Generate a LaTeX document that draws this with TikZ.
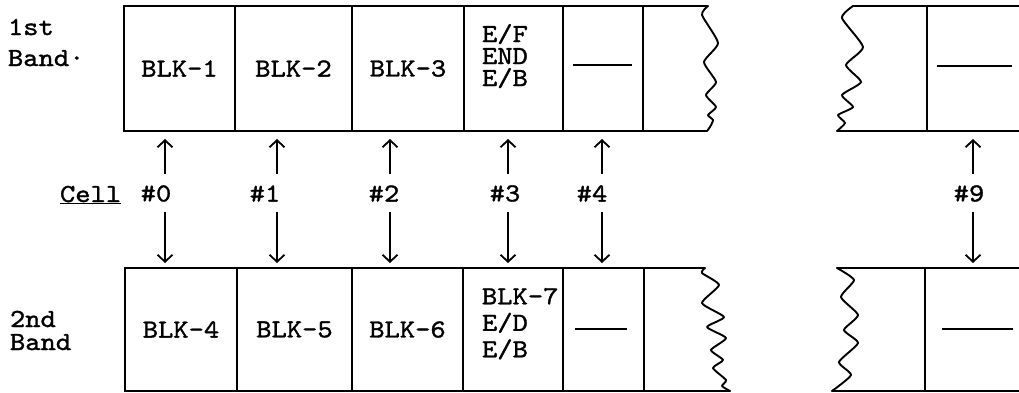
\documentclass[tikz,border=0pt]{standalone}
\usepackage{fontspec}
\setmonofont{lmmono10-regular.otf}[FakeStretch=1.12,FakeBold=1.3]
\usetikzlibrary{arrows.meta}
\begin{document}
\begin{tikzpicture}[x=1pt,y=-1pt,
  every node/.style={font=\fontsize{26}{27}\selectfont\ttfamily, inner sep=0pt, outer sep=0pt},
  cellbox/.style={draw, line width=1.6pt},
  topcell/.style={cellbox, minimum height=125pt},
  botcell/.style={cellbox, minimum height=123pt},
  band/.style={line width=1.8pt, line cap=round},
  wave/.style={line width=1.9pt, line join=round, line cap=round},
  arr/.style={line width=1.8pt, -{Straight Barb[length=7pt,width=15pt,line width=1.8pt]}},
  dashbar/.style={inner sep=0pt},
]
\useasboundingbox (0,0) rectangle (1019,392);

% ---------- band labels ----------
\node[anchor=base west] (l1a) at (8,35) {1st};
\node[anchor=base west] (l1b) at (8,66) {Band·};
\node[anchor=base west] (l2a) at (10,327) {2nd};
\node[anchor=base west] (l2b) at (10,350) {Band};

% ---------- 1st band ----------
\node[topcell, minimum width=111pt] (t1) at (179.5,68.5) {BLK-1};
\node[topcell, minimum width=117pt] (t2) at (293.5,68.5) {BLK-2};
\node[topcell, minimum width=112pt] (t3) at (408,68.5) {BLK-3};
\node[topcell, minimum width=99pt]  (t4) at (513.5,68.5) {};
\node[topcell, minimum width=80pt]  (t5) at (603,68.5) {};
\node[anchor=north west, align=left, font=\fontsize{26}{22}\selectfont\ttfamily] (t4txt) at (482,24) {E/F\\END\\E/B};
\node[dashbar] (t5d) at (602.5,65) {\rule{59pt}{1.8pt}};
\draw[band] (t5.north east) -- (708,6);
\draw[band] (t5.south east) -- (707,131);
\draw[wave] plot[smooth, tension=0.35] coordinates {(708,6) (702,15) (718,43) (704,62) (716,82) (706,95) (716,107) (708,115) (713,120) (710,127) (707,131)};

% right part of 1st band
\draw[band] (853,6) -- (1025,6);
\draw[band] (837,131) -- (1025,131);
\draw[band] (927,6) -- (927,131);
\draw[wave] plot[smooth, tension=0.35] coordinates {(853,6) (842,18) (863,47) (846,65) (861,82) (842,95) (853,107) (838,115) (845,123) (837,131)};
\node[dashbar] (t9d) at (974.5,66) {\rule{75pt}{1.8pt}};

% ---------- 2nd band ----------
\node[botcell, minimum width=112pt] (b1) at (181,329.5) {BLK-4};
\node[botcell, minimum width=115pt] (b2) at (294.5,329.5) {BLK-5};
\node[botcell, minimum width=111pt] (b3) at (407.5,329.5) {BLK-6};
\node[botcell, minimum width=100pt] (b4) at (513,329.5) {};
\node[botcell, minimum width=81pt]  (b5) at (603.5,329.5) {};
\node[anchor=north west, align=left, font=\fontsize{26}{26.5}\selectfont\ttfamily] (b4txt) at (482,288) {BLK-7\\E/D\\E/B};
\node[dashbar] (b5d) at (601,329) {\rule{52pt}{1.8pt}};
\draw[band] (b5.north east) -- (705,268);
\draw[band] (b5.south east) -- (730,391);
\draw[wave] plot[smooth, tension=0.35] coordinates {(705,268) (702,273) (719,285) (702,303) (724,317) (707,327) (726,338) (711,350) (723,360) (713,368) (726,380) (722,386) (730,391)};

% right part of 2nd band
\draw[band] (837,268) -- (1025,268);
\draw[band] (832,391) -- (1025,391);
\draw[band] (925,268) -- (925,391);
\draw[wave] plot[smooth, tension=0.35] coordinates {(837,268) (854,280) (841,297) (858,315) (844,330) (858,343) (839,362) (851,375) (832,391)};
\node[dashbar] (b9d) at (977.5,329) {\rule{71pt}{1.8pt}};

% ---------- cell labels ----------
\node[anchor=base west] (cell) at (60,202) {\underline{Cell}};
\node (n0) at (156,193.5) {\#0};
\node (n1) at (265,193.5) {\#1};
\node (n2) at (384,193.5) {\#2};
\node (n3) at (505,193.5) {\#3};
\node (n4) at (592,193.5) {\#4};
\node (n9) at (969,193.5) {\#9};

% ---------- arrows ----------
\foreach \i/\x/\tc/\bc in {0/165/t1/b1, 1/277/t2/b2, 2/390/t3/b3, 3/508/t4/b4, 4/602/t5/b5}{
  \coordinate (u\i) at (\x,174);
  \coordinate (d\i) at (\x,212);
  \draw[arr, shorten >=8pt] (u\i) -- (u\i |- \tc.south);
  \draw[arr, shorten >=5pt] (d\i) -- (d\i |- \bc.north);
}
\coordinate (u9) at (973,174);
\coordinate (d9) at (973,212);
\coordinate (r9t) at (973,131);
\coordinate (r9b) at (973,268);
\draw[arr, shorten >=8pt] (u9) -- (r9t);
\draw[arr, shorten >=5pt] (d9) -- (r9b);
\end{tikzpicture}
\end{document}
